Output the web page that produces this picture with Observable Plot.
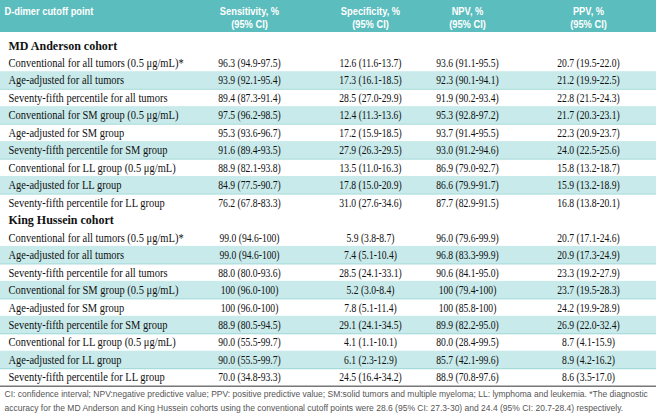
<!DOCTYPE html>
<html><head><meta charset="utf-8">
<script src="https://cdn.jsdelivr.net/npm/d3@7"></script>
<script src="https://cdn.jsdelivr.net/npm/@observablehq/plot@0.6"></script>
<style>body{margin:0;background:#fff;}</style>
</head><body><div id="chart"></div>
<script>
// ---- data ----
const columnTitles = ["D-dimer cutoff point", "Sensitivity, %", "Specificity, %", "NPV, %", "PPV, %"];
const ciLabel = "(95% CI)";
const cohorts = ["MD Anderson cohort", "King Hussein cohort"];
const cutoffs = [
  "Conventional for all tumors (0.5 μg/mL)*",
  "Age-adjusted for all tumors",
  "Seventy-fifth percentile for all tumors",
  "Conventional for SM group (0.5 μg/mL)",
  "Age-adjusted for SM group",
  "Seventy-fifth percentile for SM group",
  "Conventional for LL group (0.5 μg/mL)",
  "Age-adjusted for LL group",
  "Seventy-fifth percentile for LL group"
];
const mdSensitivity = ["96.3 (94.9-97.5)", "93.9 (92.1-95.4)", "89.4 (87.3-91.4)", "97.5 (96.2-98.5)", "95.3 (93.6-96.7)", "91.6 (89.4-93.5)", "88.9 (82.1-93.8)", "84.9 (77.5-90.7)", "76.2 (67.8-83.3)"];
const mdSpecificity = ["12.6 (11.6-13.7)", "17.3 (16.1-18.5)", "28.5 (27.0-29.9)", "12.4 (11.3-13.6)", "17.2 (15.9-18.5)", "27.9 (26.3-29.5)", "13.5 (11.0-16.3)", "17.8 (15.0-20.9)", "31.0 (27.6-34.6)"];
const mdNPV = ["93.6 (91.1-95.5)", "92.3 (90.1-94.1)", "91.9 (90.2-93.4)", "95.3 (92.8-97.2)", "93.7 (91.4-95.5)", "93.0 (91.2-94.6)", "86.9 (79.0-92.7)", "86.6 (79.9-91.7)", "87.7 (82.9-91.5)"];
const mdPPV = ["20.7 (19.5-22.0)", "21.2 (19.9-22.5)", "22.8 (21.5-24.3)", "21.7 (20.3-23.1)", "22.3 (20.9-23.7)", "24.0 (22.5-25.6)", "15.8 (13.2-18.7)", "15.9 (13.2-18.9)", "16.8 (13.8-20.1)"];
const khSensitivity = ["99.0 (94.6-100)", "99.0 (94.6-100)", "88.0 (80.0-93.6)", "100 (96.0-100)", "100 (96.0-100)", "88.9 (80.5-94.5)", "90.0 (55.5-99.7)", "90.0 (55.5-99.7)", "70.0 (34.8-93.3)"];
const khSpecificity = ["5.9 (3.8-8.7)", "7.4 (5.1-10.4)", "28.5 (24.1-33.1)", "5.2 (3.0-8.4)", "7.8 (5.1-11.4)", "29.1 (24.1-34.5)", "4.1 (1.1-10.1)", "6.1 (2.3-12.9)", "24.5 (16.4-34.2)"];
const khNPV = ["96.0 (79.6-99.9)", "96.8 (83.3-99.9)", "90.6 (84.1-95.0)", "100 (79.4-100)", "100 (85.8-100)", "89.9 (82.2-95.0)", "80.0 (28.4-99.5)", "85.7 (42.1-99.6)", "88.9 (70.8-97.6)"];
const khPPV = ["20.7 (17.1-24.6)", "20.9 (17.3-24.9)", "23.3 (19.2-27.9)", "23.7 (19.5-28.3)", "24.2 (19.9-28.9)", "26.9 (22.0-32.4)", "8.7 (4.1-15.9)", "8.9 (4.2-16.2)", "8.6 (3.5-17.0)"];
const footnotes = [
  "CI: confidence interval; NPV:negative predictive value; PPV: positive predictive value; SM:solid tumors and multiple myeloma; LL: lymphoma and leukemia. *The diagnostic",
  "accuracy for the MD Anderson and King Hussein cohorts using the conventional cutoff points were 28.6 (95% CI: 27.3-30) and 24.4 (95% CI: 20.7-28.4) respectively."
];

// ---- layout (not data) ----
const W = 656, H = 420;
const rowH = 17.47;          // px per table row
const firstRowY = 45;        // px centre of row 0
const colAnchor = [8, 249, 370, 467, 588]; // px anchor of each column

// ---- table built from data ----
const cohortData = [
  [mdSensitivity, mdSpecificity, mdNPV, mdPPV],
  [khSensitivity, khSpecificity, khNPV, khPPV]
];
const cohortRows = [], labelRows = [], valueCells = [];
cohortData.forEach((cols, c) => {
  const base = c * (cutoffs.length + 1);
  cohortRows.push({row: base, text: cohorts[c]});
  cutoffs.forEach((lab, i) => {
    const row = base + 1 + i;
    labelRows.push({row, text: lab, shaded: i % 2 === 1});
    cols.forEach((vals, k) => valueCells.push({row, col: k + 1, text: vals[i]}));
  });
});
const shadedRows = labelRows.filter(d => d.shaded);
const lastRow = d3.max(labelRows, d => d.row);
const toRow = px => (px - firstRowY) / rowH;
const headerCells = columnTitles.slice(1).map((t, i) => ({col: i + 1, text: t}));
const ciCells = columnTitles.slice(1).map((t, i) => ({col: i + 1, text: ciLabel}));
const footRows = footnotes.map((t, i) => ({row: lastRow + 0.98 + i * 0.8, text: t}));
const colX = d => colAnchor[d.col];

const teal = "#5bbdbd";
const lightTeal = "#c8eaea";
const serif = "'Liberation Serif', 'Times New Roman', serif";
const sans = "'Liberation Sans', Arial, sans-serif";

const plot = Plot.plot({
  width: W,
  height: H,
  margin: 0,
  x: {domain: [0, W], range: [0, W], axis: null},
  y: {domain: [toRow(0), toRow(H)], range: [0, H], axis: null},
  style: {background: "white"},
  marks: [
    Plot.rect([0], {y1: toRow(0), y2: toRow(32), fill: teal}),
    Plot.rect(shadedRows, {y1: d => d.row - 0.5, y2: d => d.row + 0.5, fill: lightTeal}),
    Plot.ruleY(shadedRows, {y: d => d.row + 0.5, stroke: "#93d3d3", strokeWidth: 1}),
    Plot.ruleY([lastRow + 0.5], {stroke: "#333", strokeWidth: 1}),
    Plot.text([columnTitles[0]], {ariaDescription: "hdr", x: () => colAnchor[0] - 4, y: () => toRow(11), text: d => d,
      textAnchor: "start", fill: "white", fontWeight: "bold", fontSize: 11.5, fontFamily: sans}),
    Plot.text(headerCells, {ariaDescription: "hdr", x: colX, y: () => toRow(11), text: "text",
      fill: "white", fontWeight: "bold", fontSize: 11.5, fontFamily: sans}),
    Plot.text(ciCells, {ariaDescription: "hdr", x: colX, y: () => toRow(24), text: "text",
      fill: "white", fontWeight: "bold", fontSize: 11.5, fontFamily: sans}),
    Plot.text(cohortRows, {ariaDescription: "cohort", x: () => colAnchor[0], y: "row", text: "text", textAnchor: "start",
      fill: "#111", fontWeight: "bold", fontSize: 12.5, fontFamily: serif}),
    Plot.text(labelRows, {ariaDescription: "labels", x: () => colAnchor[0], y: "row", text: "text", textAnchor: "start",
      fill: "#111", fontSize: 12.5, fontFamily: serif}),
    Plot.text(valueCells, {ariaDescription: "values", x: colX, y: "row", text: "text",
      fill: "#111", fontSize: 12.5, fontFamily: serif}),
    Plot.text(footRows, {ariaDescription: "foot", x: () => colAnchor[0] - 4, y: "row", text: "text", textAnchor: "start",
      fill: "#555", fontSize: 8.5, fontFamily: sans})
  ]
});
document.getElementById("chart").appendChild(plot);

// condensed typography: compress glyphs horizontally about each text's anchor
const squeeze = {hdr: 0.81, labels: 0.84, values: 0.77, foot: 1.0, cohort: 0.96};
for (const [lab, f] of Object.entries(squeeze)) {
  d3.select(plot).selectAll(`g[aria-description="${lab}"] text`).each(function() {
    const t = this.getAttribute("transform");
    if (t) {
      this.setAttribute("transform", `${t} scale(${f},1)`);
    } else {
      const x = +this.getAttribute("x") || 0, y = +this.getAttribute("y") || 0;
      this.removeAttribute("x"); this.removeAttribute("y");
      this.setAttribute("transform", `translate(${x},${y}) scale(${f},1)`);
    }
  });
}
</script>
</body></html>
